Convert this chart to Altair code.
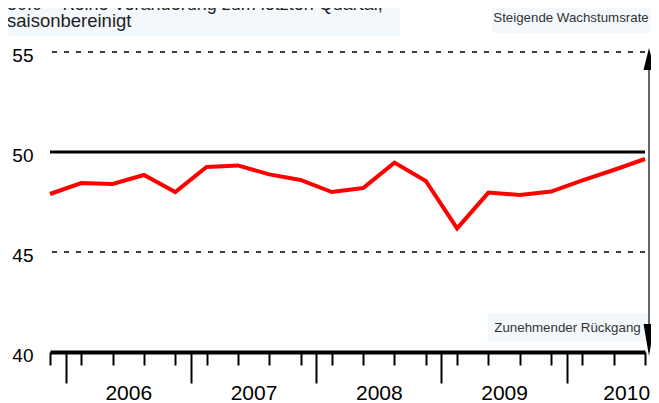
import json
import altair as alt
import pandas as pd

# ---- data ----
quarters = ["2005Q4", "2006Q1", "2006Q2", "2006Q3", "2006Q4",
            "2007Q1", "2007Q2", "2007Q3", "2007Q4",
            "2008Q1", "2008Q2", "2008Q3", "2008Q4",
            "2009Q1", "2009Q2", "2009Q3", "2009Q4",
            "2010Q1", "2010Q2", "2010Q3"]
index_values = [47.9, 48.45, 48.4, 48.85, 48.0,
                49.25, 49.33, 48.88, 48.6,
                48.0, 48.2, 49.47, 48.55,
                46.18, 47.97, 47.85, 48.02,
                48.58, 49.1, 49.65]
year_labels = ["2006", "2007", "2008", "2009", "2010"]
year_label_pos = [2.5, 6.5, 10.5, 14.5, 18.4]
year_breaks = [0.5, 4.5, 8.5, 12.5, 16.5]
y_ticks = [40, 45, 50, 55]
ref_dashed = [45, 55]
ref_solid = [50]
title_lines = ["50.0 = Keine Veränderung zum letzten Quartal,", "saisonbereinigt"]
up_label = "Steigende Wachstumsrate"
down_label = "Zunehmender Rückgang"

FONT = "Liberation Sans, Arial, Helvetica"
BOX = "#f3f8fc"

df = pd.DataFrame({"quarter": quarters, "idx": list(range(len(quarters))), "value": index_values})
xs = alt.Scale(domain=[0, len(quarters) - 1], nice=False, zero=False)
ys = alt.Scale(domain=[40, 55], nice=False, zero=False)
y_axis = alt.Axis(values=y_ticks, domain=False, ticks=False, grid=False, title=None,
                  labelFontSize=19, labelFont=FONT, labelColor="black",
                  labelPadding=17, labelOffset=3)
one = pd.DataFrame({"a": [0]})

line = alt.Chart(df).mark_line(color="#ff0000", strokeWidth=4).encode(
    x=alt.X("idx:Q", scale=xs,
            axis=alt.Axis(values=list(range(len(quarters))), orient="bottom", labels=False,
                          title=None, grid=False, tickSize=13, tickWidth=2, tickColor="black",
                          domainColor="black", domainWidth=4)),
    y=alt.Y("value:Q", scale=ys, axis=y_axis),
)

dashed = alt.Chart(pd.DataFrame({"y": ref_dashed})).mark_rule(
    color="black", strokeWidth=1.6, strokeDash=[5, 7]).encode(
    y=alt.Y("y:Q", scale=ys, axis=y_axis))
solid = alt.Chart(pd.DataFrame({"y": ref_solid})).mark_rule(
    color="black", strokeWidth=3).encode(
    y=alt.Y("y:Q", scale=ys, axis=y_axis))

major = alt.Chart(pd.DataFrame({"b": year_breaks})).mark_point(opacity=0).encode(
    x=alt.X("b:Q", scale=xs,
            axis=alt.Axis(values=year_breaks, orient="bottom", labels=False, title=None,
                          grid=False, domain=False, tickSize=31, tickWidth=2,
                          tickColor="black")),
    y=alt.value(300),
)

label_expr = f"{json.dumps(year_labels)}[indexof({json.dumps(year_label_pos)}, datum.value)]"
years = alt.Chart(pd.DataFrame({"p": year_label_pos})).mark_point(opacity=0).encode(
    x=alt.X("p:Q", scale=xs,
            axis=alt.Axis(values=year_label_pos, orient="bottom", labelExpr=label_expr,
                          title=None, grid=False, domain=False, ticks=False,
                          labelFontSize=21, labelFont=FONT, labelColor="black",
                          labelPadding=30, labelFlush=False, labelOverlap=False,
                          labelBound=False)),
    y=alt.value(300),
)

# annotation boxes and texts
title_box = alt.Chart(one).mark_rect(color=BOX).encode(
    x=alt.value(-50), x2=alt.value(350), y=alt.value(-52), y2=alt.value(-16))
up_box = alt.Chart(one).mark_rect(color=BOX).encode(
    x=alt.value(442), x2=alt.value(612), y=alt.value(-49), y2=alt.value(-19))
down_box = alt.Chart(one).mark_rect(color=BOX).encode(
    x=alt.value(438), x2=alt.value(598), y=alt.value(261), y2=alt.value(290))

t1 = alt.Chart(one).mark_text(text=title_lines[0], align="left", baseline="alphabetic",
                              font=FONT, fontSize=18, color="#222").encode(
    x=alt.value(-43), y=alt.value(-42))
t2 = alt.Chart(one).mark_text(text=title_lines[1], align="left", baseline="alphabetic",
                              font=FONT, fontSize=18.5, color="#222").encode(
    x=alt.value(-43), y=alt.value(-25))
tu = alt.Chart(one).mark_text(text=up_label, align="center", baseline="alphabetic",
                              font=FONT, fontSize=13.3, color="#333").encode(
    x=alt.value(521), y=alt.value(-30))
td = alt.Chart(one).mark_text(text=down_label, align="center", baseline="alphabetic",
                              font=FONT, fontSize=13.3, color="#333").encode(
    x=alt.value(517.5), y=alt.value(280))

arrow_line = alt.Chart(one).mark_rule(color="black", strokeWidth=1.2).encode(
    x=alt.value(599), y=alt.value(10), y2=alt.value(280))
arrow_up = alt.Chart(one).mark_point(
    shape="M-0.5,1L0,-1L0.5,1Z", size=484, filled=True, color="black", opacity=1,
    strokeWidth=0).encode(x=alt.value(599), y=alt.value(7))
arrow_down = alt.Chart(one).mark_point(
    shape="M-0.34,-1L0.34,-1L0,1Z", size=1024, filled=True, color="black", opacity=1,
    strokeWidth=0).encode(x=alt.value(599), y=alt.value(288))

chart = alt.layer(
    title_box, up_box, down_box, t1, t2, tu, td,
    dashed, solid, major, years, line, arrow_line, arrow_up, arrow_down,
).resolve_axis(x="independent").properties(
    width=595, height=300,
    background="white",
    autosize=alt.AutoSizeParams(type="none"),
    padding={"left": 42, "top": 44, "right": 6, "bottom": 51},
).configure_view(stroke=None)

chart.save("out.html", embed_options={"renderer": "svg", "actions": False})
